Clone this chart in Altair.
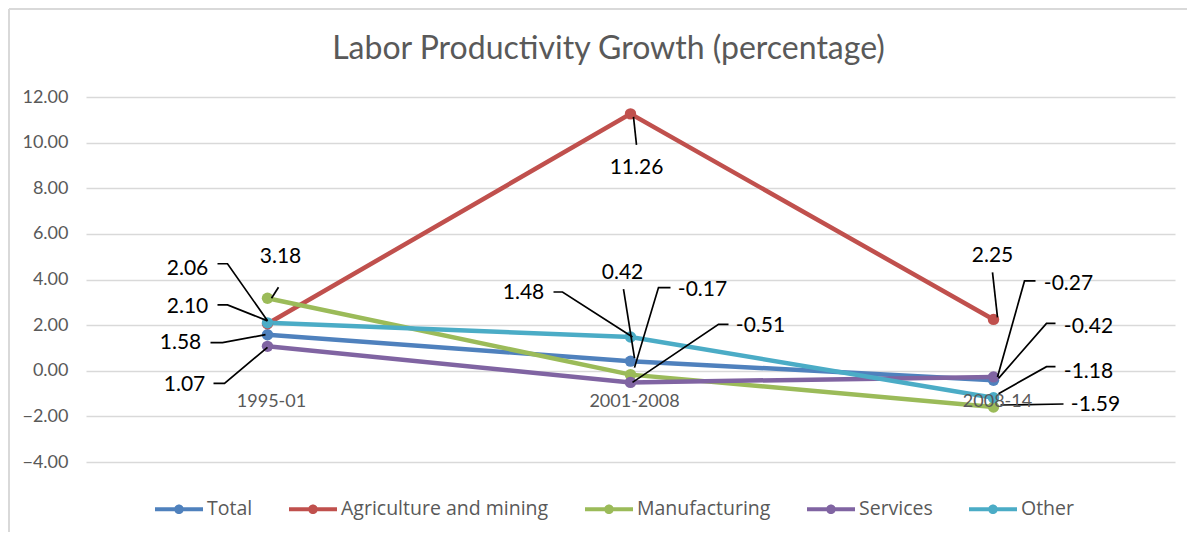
import altair as alt
import pandas as pd

categories = ["1995-01", "2001-2008", "2008-14"]
series = ["Total", "Agriculture and mining", "Manufacturing", "Services", "Other"]
total = [1.58, 0.42, -0.42]
agriculture = [2.06, 11.26, 2.25]
manufacturing = [3.18, -0.17, -1.59]
services = [1.07, -0.51, -0.27]
other = [2.10, 1.48, -1.18]
y_ticks = [-4, -2, 0, 2, 4, 6, 8, 10, 12]
colors = ["#4F81BD", "#C0504D", "#9BBB59", "#8064A2", "#4BACC6"]

# Data-label placement (pixel offsets from the point): text, leader start, elbow, leader end
label_layout = {
    ("Agriculture and mining", 0): ((-80, -55), (-50, -60), (-40, -60), (0, -3)),
    ("Manufacturing", 0): ((13, -41), (11, -11), (11, -11), (4, 0)),
    ("Other", 0): ((-80, -16), (-50, -18), (-40, -18), (0, -2)),
    ("Total", 0): ((-87, 8), (-57, 8), (-45, 8), (-2, 0)),
    ("Services", 0): ((-83, 39), (-54, 37), (-43, 37), (0, 1)),
    ("Agriculture and mining", 1): ((6, 54), (6, 31), (6, 31), (3, 3)),
    ("Other", 1): ((-107, -44), (-77, -45), (-68, -45), (2, 0)),
    ("Total", 1): ((-8, -88), (-7, -72), (-7, -72), (4, -3)),
    ("Manufacturing", 1): ((72, -85), (40, -87), (28, -87), (4, -7)),
    ("Services", 1): ((130, -56), (98, -58), (88, -58), (2, 0)),
    ("Agriculture and mining", 2): ((-1, -63), (-1, -47), (-1, -47), (4, -2)),
    ("Services", 2): ((75, -93), (42, -96), (31, -96), (4, 0)),
    ("Total", 2): ((95, -53), (62, -57), (53, -57), (5, -2)),
    ("Other", 2): ((95, -26), (62, -31), (53, -31), (5, -4)),
    ("Manufacturing", 2): ((102, -2), (70, -3), (70, -3), (7, -2)),
}

W, H = 1089, 365
X_DOMAIN = [-0.5, 2.5]
Y_DOMAIN = [-4, 12]
PX_X = W / (X_DOMAIN[1] - X_DOMAIN[0])
PX_Y = H / (Y_DOMAIN[1] - Y_DOMAIN[0])

values = dict(zip(series, [total, agriculture, manufacturing, services, other]))

rows = []
for s in series:
    for i, c in enumerate(categories):
        rows.append({"series": s, "category": c, "xi": i, "value": values[s][i]})
df = pd.DataFrame(rows)

lab_rows, lead_rows = [], []
for (s, i), (t, a, b, e) in label_layout.items():
    v = values[s][i]
    lab_rows.append({"lx": i + t[0] / PX_X, "ly": v - t[1] / PX_Y, "label": f"{v:.2f}"})
    for k, p in enumerate((a, b, e)):
        lead_rows.append({"id": f"{s}-{i}", "k": k, "px": i + p[0] / PX_X, "py": v - p[1] / PX_Y})
lab_df = pd.DataFrame(lab_rows)
lead_df = pd.DataFrame(lead_rows)
cat_df = pd.DataFrame({"xi": list(range(len(categories))), "category": categories})

xs = alt.Scale(domain=X_DOMAIN, nice=False, zero=False)
ys = alt.Scale(domain=Y_DOMAIN, nice=False, zero=False)
cscale = alt.Scale(domain=series, range=colors)

legend_path = ("M-1,-0.08L1,-0.08L1,0.08L-1,0.08Z"
               "M0.2,0A0.2,0.2,0,1,1,-0.2,0A0.2,0.2,0,1,1,0.2,0Z")
legend = alt.Legend(
    title=None, orient="none", direction="horizontal", columns=5,
    legendX=69, legendY=388, symbolType=legend_path, symbolSize=2304,
    symbolStrokeWidth=0, labelFontSize=19.5, labelFont="Open Sans", labelLimit=0,
    labelColor="#595959", labelOffset=4, columnPadding=36, padding=0)

lines = alt.Chart(df).mark_line(strokeWidth=4.5).encode(
    x=alt.X("xi:Q", scale=xs, axis=None),
    y=alt.Y("value:Q", scale=ys, title=None,
            axis=alt.Axis(values=y_ticks, format=".2f")),
    color=alt.Color("series:N", scale=cscale, legend=legend),
)
points = alt.Chart(df).mark_circle(size=130, opacity=1).encode(
    x=alt.X("xi:Q", scale=xs, axis=None),
    y=alt.Y("value:Q", scale=ys, title=None),
    color=alt.Color("series:N", scale=cscale, legend=legend),
)
leaders = alt.Chart(lead_df).mark_line(color="black", strokeWidth=1.7).encode(
    x=alt.X("px:Q", scale=xs, axis=None),
    y=alt.Y("py:Q", scale=ys, title=None),
    detail="id:N",
    order="k:O",
)
labels = alt.Chart(lab_df).mark_text(font="Lato", fontSize=21, color="black",
                                     align="center", baseline="middle").encode(
    x=alt.X("lx:Q", scale=xs, axis=None),
    y=alt.Y("ly:Q", scale=ys, title=None),
    text="label:N",
)
cat_labels = alt.Chart(cat_df).mark_text(font="Lato", fontSize=18, color="#595959",
                                         dy=31, dx=4, baseline="middle").encode(
    x=alt.X("xi:Q", scale=xs, axis=None),
    y=alt.datum(0),
    text="category:N",
)
border_left = alt.Chart(cat_df).mark_rule(color="#D9D9D9", strokeWidth=2).encode(
    x=alt.value(-77), y=alt.value(-88), y2=alt.value(440))
border_top = alt.Chart(cat_df).mark_rule(color="#D9D9D9", strokeWidth=2).encode(
    x=alt.value(-77), x2=alt.value(1110), y=alt.value(-88))

chart = alt.layer(border_left, border_top, lines, points, leaders, labels, cat_labels).properties(
    width=W, height=H,
    autosize=alt.AutoSizeParams(type="none"),
    padding={"left": 78, "top": 89, "right": 12, "bottom": 70},
    title=alt.TitleParams("Labor Productivity Growth (percentage)", font="Lato",
                          fontSize=32, fontWeight="normal", color="#595959",
                          anchor="middle", dx=-22, offset=-58),
).configure_view(stroke=None).configure_axis(
    grid=True, gridColor="#D9D9D9", gridWidth=1.5, domain=False, ticks=False,
    labelPadding=18, labelFontSize=18, labelFont="Lato", labelColor="#595959",
).configure_axisX(grid=False)

chart.save("out.html", embed_options={"renderer": "svg", "actions": False})
